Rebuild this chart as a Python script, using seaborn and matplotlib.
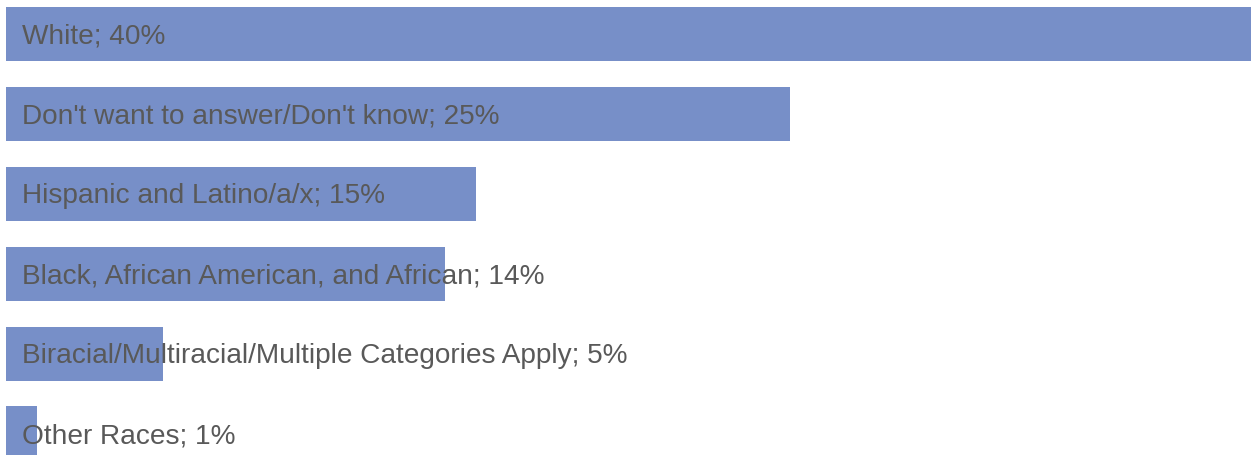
import matplotlib
matplotlib.use("Agg")
import matplotlib.pyplot as plt
import seaborn as sns
import pandas as pd

categories = [
    "White",
    "Don't want to answer/Don't know",
    "Hispanic and Latino/a/x",
    "Black, African American, and African",
    "Biracial/Multiracial/Multiple Categories Apply",
    "Other Races",
]
values = [40, 25, 15, 14, 5, 1]

df = pd.DataFrame({"category": categories, "value": values})

sns.set_style("white")
plt.rcParams["font.family"] = ["Liberation Sans", "DejaVu Sans"]

W, H = 1251, 456
fig = plt.figure(figsize=(W / 100, H / 100), dpi=100)
left_px, right_px = 6, 1251
top_px, bot_px = -5.5, 474.5
ax = fig.add_axes([left_px / W, 1 - bot_px / H, (right_px - left_px) / W, (bot_px - top_px) / H])

sns.barplot(data=df, x="value", y="category", orient="h", color="#778FC8",
            saturation=1, width=0.675, linewidth=0, ax=ax)
ax.set_xlim(0, 39.7)
ax.set_ylim(5.5, -0.5)
ax.axis("off")

for i, (c, v) in enumerate(zip(categories, values)):
    ax.text(0.5, i + 0.02, f"{c}; {v}%", va="center", ha="left", fontsize=20.2,
            color="#595959")

fig.savefig("out.png", dpi=100)
